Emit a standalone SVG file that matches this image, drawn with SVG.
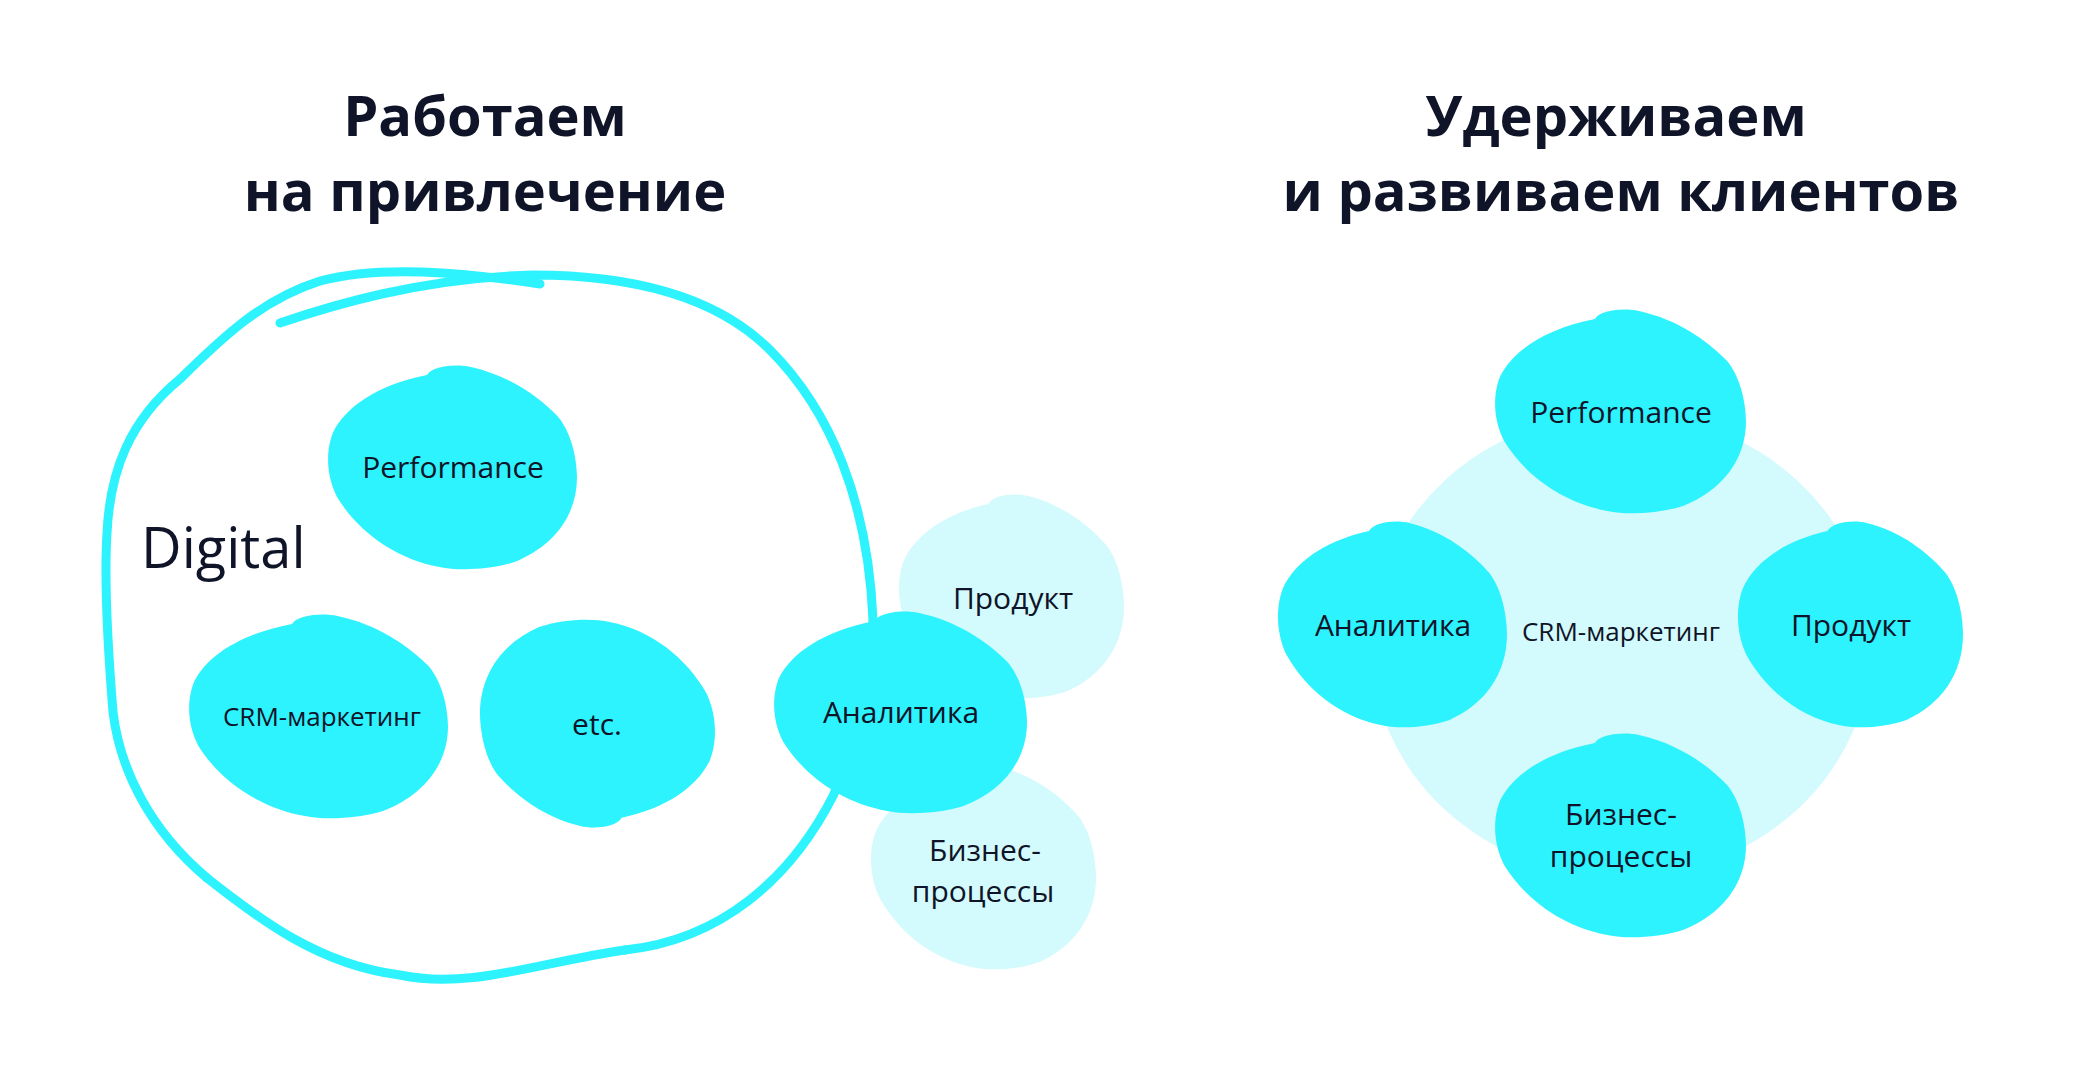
<svg xmlns="http://www.w3.org/2000/svg" xmlns:xlink="http://www.w3.org/1999/xlink" width="2091" height="1080" viewBox="0 0 2091 1080">
<style>
.title{font-family:"Open Sans","Noto Sans",sans-serif;font-weight:700;font-size:56px;fill:#0f1428;text-anchor:middle}
.lbl{font-family:"Open Sans","Noto Sans",sans-serif;font-size:30px;fill:#0f1428;text-anchor:middle}
.sm{font-size:26px}
.cy{fill:#2cf3fe}
.lt{fill:#d3fafc}
.outline{fill:none;stroke:#2cf3fe;stroke-width:9;stroke-linecap:round;stroke-linejoin:round}
</style>
<defs>
<path id="blob" d="M -20,-92 C -15,-102 5,-103 15,-100 C 45,-92 70,-70 85,-50 C 98,-30 100,0 100,10 C 100,50 80,80 50,95 C 30,103 5,104 -10,100 C -45,92 -75,65 -92,30 C -102,5 -100,-20 -95,-35 C -85,-60 -60,-82 -20,-92 Z"/>
</defs>
<rect width="2091" height="1080" fill="#ffffff"/>

<g id="title-left">
<text class="title" x="485" y="136">Работаем</text>
<text class="title" x="485" y="211">на привлечение</text>
</g>
<g id="title-right">
<text class="title" x="1616" y="136">Удерживаем</text>
<text class="title" x="1621" y="211">и развиваем клиентов</text>
</g>

<g id="node-produkt-left">
<use href="#blob" class="lt" transform="translate(1011,596) scale(1.13,1.0)"/>
<text class="lbl" x="1013" y="609">Продукт</text>
</g>
<g id="node-biznes-left">
<use href="#blob" class="lt" transform="translate(983,867) scale(1.13,1.0)"/>
<text class="lbl" x="985" y="861">Бизнес-</text>
<text class="lbl" x="983" y="902">процессы</text>
</g>

<g id="connectors">
<path class="outline" d="M280,323 C330,306 420,278 533,275 C640,275 720,300 770,350 C830,410 868,500 873,620 C870,700 850,760 833,796 C790,880 720,940 625,950"/>
<path class="outline" d="M625,950 C540,962 470,990 400,975 C320,965 260,920 207,878"/>
<path class="outline" d="M207,878 C150,830 120,770 113,712 C108,650 104,580 107,533 C110,470 130,420 180,379 C220,340 260,300 320,281 C380,265 460,272 540,284"/>
</g>

<g id="label-digital">
<text class="lbl" x="141" y="568" style="font-size:56px;text-anchor:start">Digital</text>
</g>

<g id="node-performance-left">
<use href="#blob" class="cy" transform="translate(452,467) scale(1.25,1.0)"/>
<text class="lbl" x="453" y="478">Performance</text>
</g>
<g id="node-crm-left">
<use href="#blob" class="cy" transform="translate(318,716) scale(1.3,1.0)"/>
<text class="lbl sm" x="322" y="726">CRM-маркетинг</text>
</g>
<g id="node-etc">
<use href="#blob" class="cy" transform="translate(598,724) rotate(180) scale(1.18,1.02)"/>
<text class="lbl" x="597" y="735">etc.</text>
</g>
<g id="node-analitika-left">
<use href="#blob" class="cy" transform="translate(900,712) scale(1.27,0.99)"/>
<text class="lbl" x="901" y="723">Аналитика</text>
</g>

<g id="node-crm-right">
<ellipse class="lt" cx="1621" cy="645" rx="250" ry="232"/>
<text class="lbl sm" x="1621" y="641">CRM-маркетинг</text>
</g>
<g id="node-performance-right">
<use href="#blob" class="cy" transform="translate(1620,411) scale(1.26,1.0)"/>
<text class="lbl" x="1621" y="423">Performance</text>
</g>
<g id="node-analitika-right">
<use href="#blob" class="cy" transform="translate(1392,624) scale(1.15,1.01)"/>
<text class="lbl" x="1393" y="636">Аналитика</text>
</g>
<g id="node-produkt-right">
<use href="#blob" class="cy" transform="translate(1850,624) scale(1.13,1.01)"/>
<text class="lbl" x="1851" y="636">Продукт</text>
</g>
<g id="node-biznes-right">
<use href="#blob" class="cy" transform="translate(1620,835) scale(1.26,1.0)"/>
<text class="lbl" x="1621" y="825">Бизнес-</text>
<text class="lbl" x="1621" y="867">процессы</text>
</g>
</svg>
